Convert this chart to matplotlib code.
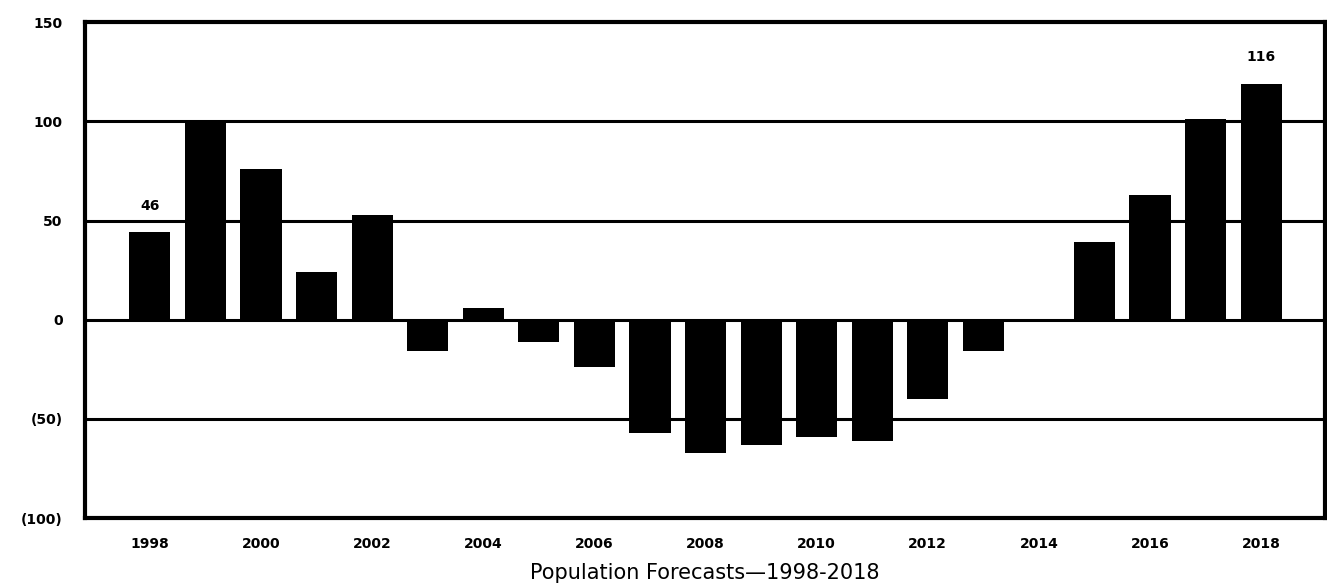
import matplotlib
matplotlib.use("Agg")
import matplotlib.pyplot as plt

years = list(range(1998, 2019))
values = [44, 100, 76, 24, 53, -16, 6, -11, -24, -57, -67, -63, -59, -61, -40, -16, 0, 39, 63, 101, 119]
label_years = [1998, 2018]
label_texts = ["46", "116"]
ytick_vals = [150, 100, 50, 0, -50, -100]
ytick_labels = ["150", "100", "50", "0", "(50)", "(100)"]
xtick_years = list(range(1998, 2019, 2))
grid_vals = [100, 50, -50]
xlabel = "Population Forecasts\u20141998-2018"

plt.rcParams['font.family'] = ['DejaVu Sans']
fig = plt.figure(figsize=(13.27, 5.85), dpi=100)
ax = fig.add_axes([0.064, 0.1145, 0.9345, 0.8475])

for g in grid_vals:
    ax.axhline(g, color='black', lw=2.2, zorder=1)
ax.axhline(0, color='black', lw=2.2, zorder=1)

ax.bar(years, values, width=0.74, color='black', zorder=2)

for yr, txt in zip(label_years, label_texts):
    v = values[years.index(yr)]
    ax.annotate(txt, (yr, v), xytext=(0, 14), textcoords='offset points',
                ha='center', va='bottom', fontsize=10, fontweight='bold')

ax.set_xlim(1996.83, 2019.15)
ax.set_ylim(-100, 150)
ax.set_yticks(ytick_vals)
ax.set_yticklabels(ytick_labels, fontsize=10, fontweight='bold')
ax.set_xticks(xtick_years)
ax.set_xticklabels([str(y) for y in xtick_years], fontsize=10, fontweight='bold')
ax.tick_params(axis='both', length=0, pad=14)
ax.tick_params(axis='y', pad=16)
for s in ax.spines.values():
    s.set_linewidth(3)
    s.set_color('black')
ax.set_xlabel(xlabel, fontsize=15, labelpad=8)

fig.savefig("out.png", dpi=100, facecolor='white')
